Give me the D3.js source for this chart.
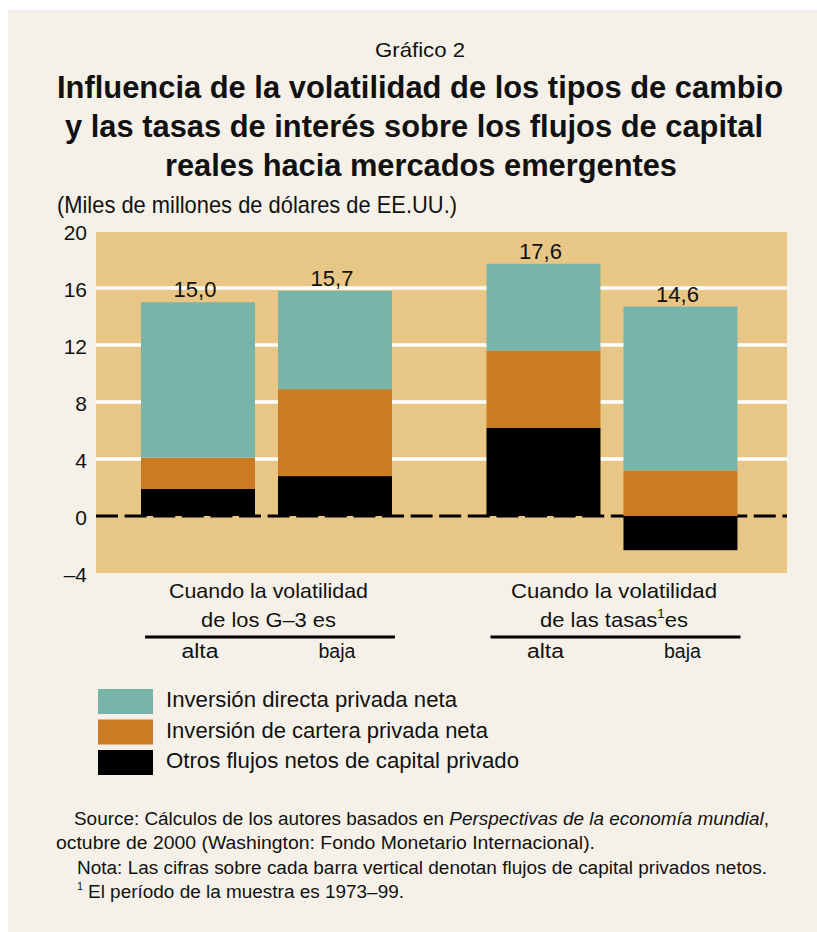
<!DOCTYPE html>
<html><head><meta charset="utf-8">
<script src="https://cdn.jsdelivr.net/npm/d3@7"></script>
<style>html,body{margin:0;padding:0;background:#fff;} svg{display:block}</style>
</head><body><svg id="c" width="817" height="932"></svg>
<script>
// ---- data ----
const grupos = ["G3", "tasas"];
const niveles = ["alta", "baja"];
const claves = ["otros", "cartera", "directa"];
const nombres = {
  directa: "Inversión directa privada neta",
  cartera: "Inversión de cartera privada neta",
  otros: "Otros flujos netos de capital privado"
};
const otros   = [1.9, 2.8, 6.2, -2.4];
const cartera = [2.2, 6.1, 5.4, 3.2];
const directa = [10.9, 6.9, 6.1, 11.5];
const netos   = [15.0, 15.7, 17.6, 14.6];
const yTicks = [-4, 0, 4, 8, 12, 16, 20];
const gridTicks = [4, 8, 12, 16];
const grupoEtiquetas = [
  [[{t: "Cuando la volatilidad"}], [{t: "de los G–3 es"}]],
  [[{t: "Cuando la volatilidad"}], [{t: "de las tasas"}, {t: "1", sup: true}, {t: "es", after: true}]]
];

// ---- layout ----
const W = 817, H = 932;
const L = 96, R = 787, T = 231, B = 573;
const FONT = "'Liberation Sans', Arial, sans-serif";
const C = {page: "#F5F1E9", plot: "#E8C686", directa: "#79B4A9", cartera: "#CB7B20", otros: "#000000"};

const rows = otros.map((v, i) => ({
  grupo: grupos[Math.floor(i / 2)], nivel: niveles[i % 2],
  otros: otros[i], cartera: cartera[i], directa: directa[i], neto: netos[i]
}));

const svg = d3.select("#c");
svg.append("rect").attr("width", W).attr("height", H).attr("fill", "#fff");
svg.append("rect").attr("x", 8).attr("y", 10).attr("width", W - 8).attr("height", H - 10).attr("fill", C.page);

const xG = d3.scaleBand().domain(grupos).range([L, R]);
const xS = d3.scaleBand().domain(niveles).range([0, xG.bandwidth()])
  .paddingInner(0.168).paddingOuter(0.345).align(0.476);
const y = d3.scaleLinear().domain([-4, 20]).range([B, T]);
const loc = d3.formatLocale({decimal: ",", thousands: ".", grouping: [3], currency: ["", ""], minus: "–"});
const fmt1 = loc.format(".1f"), fmt0 = loc.format("d");

function txt(g, parts, x, yy, size, width, opts = {}) {
  const t = g.append("text").attr("x", x).attr("y", yy)
    .attr("font-family", FONT).attr("font-size", size)
    .attr("font-weight", opts.weight || "normal")
    .attr("text-anchor", opts.anchor || "start").attr("fill", "#111");
  parts.forEach(p => {
    const s = t.append("tspan").text(p.t);
    if (p.it) s.attr("font-style", "italic");
    if (p.sup) s.attr("font-size", size * 0.6).attr("dy", -size * 0.42);
    if (p.after) s.attr("dy", size * 0.42);
  });
  if (width) t.attr("textLength", width).attr("lengthAdjust", "spacingAndGlyphs");
  return t;
}

// titles
txt(svg, [{t: "Gráfico 2"}], 420, 57, 21, 90, {anchor: "middle"});
txt(svg, [{t: "Influencia de la volatilidad de los tipos de cambio"}], 420, 98, 31, 726, {anchor: "middle", weight: "bold"});
txt(svg, [{t: "y las tasas de interés sobre los flujos de capital"}], 414, 137, 31, 698, {anchor: "middle", weight: "bold"});
txt(svg, [{t: "reales hacia mercados emergentes"}], 421, 176, 31, 512, {anchor: "middle", weight: "bold"});
txt(svg, [{t: "(Miles de millones de dólares de EE.UU.)"}], 57, 213, 24, 400);

// plot background
svg.append("rect").attr("x", L).attr("y", y(20) + 1).attr("width", R - L).attr("height", y(-4) - y(20) - 1).attr("fill", C.plot);

// grid
svg.append("g").selectAll("line").data(gridTicks).join("line")
  .attr("x1", L).attr("x2", R).attr("y1", d => y(d)).attr("y2", d => y(d))
  .attr("stroke", "#fff").attr("stroke-width", 3.5);

// zero line
svg.append("line").attr("x1", L).attr("x2", R).attr("y1", y(0)).attr("y2", y(0))
  .attr("stroke", "#000").attr("stroke-width", 3).attr("stroke-dasharray", "22 6.6");

// stacked bars
const stack = d3.stack().keys(claves).offset(d3.stackOffsetDiverging)(rows);
const bx = d => xG(d.data.grupo) + xS(d.data.nivel);
svg.append("g").selectAll("g").data(stack).join("g").attr("fill", s => C[s.key])
  .selectAll("rect").data(s => s).join("rect")
  .attr("x", bx).attr("width", xS.bandwidth())
  .attr("y", d => y(Math.max(d[0], d[1]))).attr("height", d => Math.abs(y(d[0]) - y(d[1])));

// value labels
const capa = stack[stack.length - 1];
svg.append("g").selectAll("text").data(capa).join("text")
  .attr("x", d => bx(d) + xS.bandwidth() / 2 - 3).attr("y", d => y(d[1]) - 5)
  .attr("text-anchor", "middle").attr("font-family", FONT).attr("font-size", 22).attr("fill", "#111")
  .text(d => fmt1(d.data.neto));

// y axis
const ax = svg.append("g").attr("transform", `translate(${L},0)`)
  .call(d3.axisLeft(y).tickValues(yTicks).tickSize(0).tickPadding(9).tickFormat(fmt0));
ax.select(".domain").remove();
ax.selectAll("text").attr("font-family", FONT).attr("font-size", 21).attr("fill", "#111").attr("dy", "0.42em");

// x group labels
const lineW = [[199, 135], [206, 148]];
grupos.forEach((g, gi) => {
  const x0 = xG(g) + xS(niveles[0]), x1 = xG(g) + xS(niveles[1]) + xS.bandwidth();
  const cx = (x0 + x1) / 2 + 2;
  grupoEtiquetas[gi].forEach((ln, li) => {
    txt(svg, ln, cx, 598 + li * 29, 21, lineW[gi][li], {anchor: "middle"});
  });
  svg.append("line").attr("x1", x0 + 4).attr("x2", x1 + 3).attr("y1", 637).attr("y2", 637)
    .attr("stroke", "#000").attr("stroke-width", 3);
  niveles.forEach(n => {
    txt(svg, [{t: n}], xG(g) + xS(n) + xS.bandwidth() / 2 + 2, 658, 20, 37, {anchor: "middle"});
  });
});

// legend
const legKeys = claves.slice().reverse();
const legW = [291, 322, 353];
legKeys.forEach((k, i) => {
  const yy = 689 + i * 30.5;
  svg.append("rect").attr("x", 98).attr("y", yy).attr("width", 55).attr("height", 25).attr("fill", C[k]);
  txt(svg, [{t: nombres[k]}], 166, yy + 18, 22, legW[i]);
});

// footnotes
txt(svg, [{t: "Source: Cálculos de los autores basados en "}, {t: "Perspectivas de la economía mundial", it: true}, {t: ","}], 74, 825, 18, 695);
txt(svg, [{t: "octubre de 2000 (Washington: Fondo Monetario Internacional)."}], 56, 849, 18, 539);
txt(svg, [{t: "Nota: Las cifras sobre cada barra vertical denotan flujos de capital privados netos."}], 77, 874, 18, 690);
txt(svg, [{t: "1", sup: true}], 77, 898, 18);
txt(svg, [{t: "El período de la muestra es 1973–99."}], 88, 898, 18, 316);
</script></body></html>
